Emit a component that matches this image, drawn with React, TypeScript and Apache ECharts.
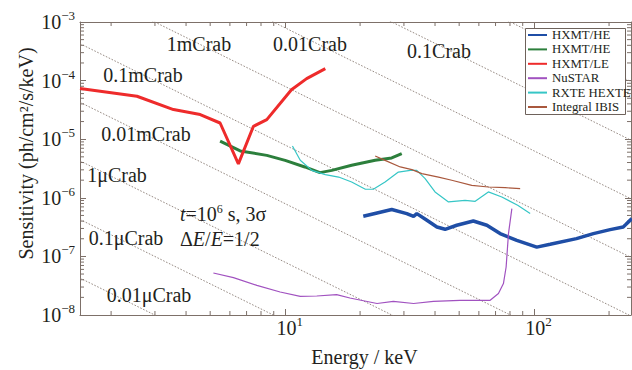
import React, { useEffect, useRef } from 'react';
import * as echarts from 'echarts';

const FONT = '"Liberation Serif", "Times New Roman", Times, serif';
const AXIS = '#7d7069';
const TEXT = '#231f20';

// axis ranges (keV, ph/cm^2/s/keV)
const xRange: [number, number] = [1.5, 245];
const yRange: [number, number] = [1e-8, 1e-3];

// minor tick values
const xMinorTicks = [2, 3, 4, 5, 6, 7, 8, 9, 20, 30, 40, 50, 60, 70, 80, 90, 200];
const yMinorTicks = [-8, -7, -6, -5, -4].flatMap((p) => [2, 3, 4, 5, 6, 7, 8, 9].map((k) => k * Math.pow(10, p)));

// Crab reference lines: F = fraction * crabNorm * E^-crabIndex
const crabNorm = 10;
const crabIndex = 2.1;
const crabFractions = [1, 0.1, 0.01, 1e-3, 1e-4, 1e-5, 1e-6, 1e-7, 1e-8];

const crabLabels = [
  { text: '1mCrab', x: 199, y: 44 },
  { text: '0.01Crab', x: 310, y: 44 },
  { text: '0.1Crab', x: 439, y: 51 },
  { text: '0.1mCrab', x: 143, y: 75 },
  { text: '0.01mCrab', x: 146, y: 134 },
  { text: '1μCrab', x: 117, y: 175 },
  { text: '0.1μCrab', x: 126, y: 238 },
  { text: '0.01μCrab', x: 149, y: 295 },
];

// series data [energy keV, sensitivity]
const hxmtHe: [number, number][] = [
  [20.6, 4.83e-7], [23.4, 5.51e-7], [26.8, 6.3e-7], [30.8, 5.37e-7], [32.8, 4.83e-7], [33.8, 5.37e-7],
  [37.1, 4.13e-7], [40.7, 3.18e-7], [43.9, 2.9e-7], [48.9, 3.4e-7], [57.0, 4.02e-7], [64.6, 3.4e-7],
  [73.0, 2.45e-7], [85.2, 1.88e-7], [102.5, 1.44e-7], [116, 1.61e-7], [148, 2.01e-7], [173, 2.45e-7],
  [202, 2.86e-7], [228, 3.18e-7], [234, 3.53e-7], [247, 4.42e-7],
];
const hxmtMe: [number, number][] = [
  [5.48, 9.3e-6], [6.6, 6.3e-6], [8.44, 5.3e-6], [10.0, 4.36e-6], [12.0, 3.36e-6], [13.8, 2.69e-6],
  [15.4, 2.94e-6], [18.5, 3.59e-6], [23.0, 4.36e-6], [26.8, 4.78e-6], [29.4, 5.68e-6],
];
const hxmtLe: [number, number][] = [
  [1.5, 7.3e-5], [2.54, 5.4e-5], [3.56, 3.2e-5], [4.56, 2.63e-5], [5.48, 1.89e-5], [6.49, 3.8e-6],
  [7.46, 1.66e-5], [8.44, 2.16e-5], [10.6, 7.0e-5], [12.2, 1.08e-4], [14.5, 1.6e-4],
];
const nustar: [number, number][] = [
  [5.15, 5.21e-8], [6.2, 4.35e-8], [7.7, 3.21e-8], [9.55, 2.47e-8], [11.5, 2.08e-8], [13.4, 2.11e-8],
  [16.1, 2.23e-8], [18.2, 1.95e-8], [23.4, 1.57e-8], [27.2, 1.71e-8], [32.8, 1.57e-8], [39.4, 1.71e-8],
  [50.4, 1.78e-8], [66.6, 1.78e-8], [71.9, 2.32e-8], [75.3, 3.44e-8], [77.2, 6.6e-8], [78.9, 2.45e-7],
  [81.4, 6.55e-7],
];
const rxteHexte: [number, number][] = [
  [10.7, 7.66e-6], [11.5, 4.36e-6], [12.8, 2.94e-6], [14.5, 2.49e-6], [16.4, 2.26e-6], [18.5, 1.86e-6],
  [21.0, 1.4e-6], [22.6, 1.4e-6], [25.2, 1.86e-6], [28.5, 2.75e-6], [31.8, 2.94e-6], [33.8, 2.94e-6],
  [36.5, 2.13e-6], [40.0, 1.26e-6], [45.3, 8.5e-7], [52.8, 9.05e-7], [58.0, 8.7e-7], [65.5, 1.26e-6],
  [74.2, 1.03e-6], [85.9, 7.45e-7], [96.4, 5.37e-7],
];
const integralIbis: [number, number][] = [
  [23.0, 5.16e-6], [25.2, 4.36e-6], [29.0, 3.36e-6], [32.3, 3.03e-6], [35.4, 2.59e-6], [41.3, 2.26e-6],
  [46.7, 1.99e-6], [56.2, 1.63e-6], [65.5, 1.53e-6], [76.5, 1.49e-6], [87.9, 1.43e-6],
];

const curves = [
  { id: 'he', label: 'HXMT/HE', data: hxmtHe, color: '#1f4ea6', width: 3.5 },
  { id: 'me', label: 'HXMT/HE', data: hxmtMe, color: '#2c7f3c', width: 3 },
  { id: 'le', label: 'HXMT/LE', data: hxmtLe, color: '#ee2b2b', width: 3 },
  { id: 'nustar', label: 'NuSTAR', data: nustar, color: '#a152c0', width: 1.2 },
  { id: 'hexte', label: 'RXTE HEXTE', data: rxteHexte, color: '#36c6c6', width: 1.2 },
  { id: 'ibis', label: 'Integral IBIS', data: integralIbis, color: '#a9583d', width: 1.2 },
];

const supRich = {
  b: { fontSize: 20, fontFamily: FONT, color: TEXT, lineHeight: 26 },
  s: { fontSize: 13, fontFamily: FONT, color: TEXT, lineHeight: 13, verticalAlign: 'top' },
};

function powLabel(v: number) {
  const l = Math.log10(v);
  const r = Math.round(l);
  if (Math.abs(l - r) > 1e-6) return '';
  return `{b|10}{s|${r < 0 ? '−' + -r : r}}`;
}

export default function App() {
  const ref = useRef<HTMLDivElement>(null);
  useEffect(() => {
    if (!ref.current) return;
    const chart = echarts.init(ref.current, null, { renderer: 'svg' });
    const tickStyle = { stroke: AXIS, lineWidth: 1 };
    const series: any[] = [];
    crabFractions.forEach((f, i) => {
      series.push({
        type: 'line',
        name: 'crab' + i,
        data: xRange.map((e) => [e, f * crabNorm * Math.pow(e, -crabIndex)]),
        symbol: 'none',
        showSymbol: false,
        silent: true,
        clip: true,
        z: 1,
        lineStyle: { color: '#8a7d75', width: 0.9, type: [1.6, 1.6] },
      });
    });
    curves.forEach((c) => {
      series.push({
        type: 'line',
        name: c.id,
        data: c.data,
        symbol: 'none',
        showSymbol: false,
        clip: true,
        z: 2,
        lineStyle: { color: c.color, width: c.width },
        itemStyle: { color: c.color },
      });
    });
    series.push({
      type: 'custom',
      name: 'xminor',
      silent: true,
      data: xMinorTicks.map((v) => [v, yRange[0]]),
      renderItem: (params: any, api: any) => {
        const cs = params.coordSys;
        const px = api.coord([api.value(0), api.value(1)])[0];
        const b = cs.y + cs.height;
        return {
          type: 'group',
          children: [
            { type: 'line', shape: { x1: px, y1: b, x2: px, y2: b - 4 }, style: tickStyle },
            { type: 'line', shape: { x1: px, y1: cs.y, x2: px, y2: cs.y + 4 }, style: tickStyle },
          ],
        };
      },
    });
    series.push({
      type: 'custom',
      name: 'yminor',
      silent: true,
      data: yMinorTicks.map((v) => [xRange[0], v]),
      renderItem: (params: any, api: any) => {
        const cs = params.coordSys;
        const py = api.coord([api.value(0), api.value(1)])[1];
        const r = cs.x + cs.width;
        return {
          type: 'group',
          children: [
            { type: 'line', shape: { x1: cs.x, y1: py, x2: cs.x + 4, y2: py }, style: tickStyle },
            { type: 'line', shape: { x1: r, y1: py, x2: r - 4, y2: py }, style: tickStyle },
          ],
        };
      },
    });

    const axisCommon = {
      type: 'log',
      logBase: 10,
      axisLine: { show: true, onZero: false, lineStyle: { color: AXIS, width: 1 } },
      axisTick: { show: true, inside: true, length: 6, lineStyle: { color: AXIS, width: 1 } },
      splitLine: { show: false },
      minorTick: { show: false },
    };

    const labelMap: Record<string, string> = {};
    curves.forEach((c) => (labelMap[c.id] = c.label));

    chart.setOption({
      animation: false,
      backgroundColor: '#ffffff',
      grid: { left: 80, right: 1, top: 22, bottom: 55 },
      xAxis: [
        {
          ...axisCommon,
          position: 'bottom',
          min: xRange[0],
          max: xRange[1],
          axisLabel: { formatter: powLabel, rich: supRich, margin: 0, padding: [0, 0, 0, 9], showMinLabel: false, showMaxLabel: false },
        },
        { ...axisCommon, position: 'top', min: xRange[0], max: xRange[1], axisLabel: { show: false } },
      ],
      yAxis: [
        {
          ...axisCommon,
          position: 'left',
          min: yRange[0],
          max: yRange[1],
          axisLabel: { formatter: powLabel, rich: supRich, margin: 5 },
        },
        { ...axisCommon, position: 'right', min: yRange[0], max: yRange[1], axisLabel: { show: false } },
      ],
      legend: {
        data: curves.map((c) => c.id),
        formatter: (n: string) => labelMap[n] || n,
        orient: 'vertical',
        left: 524,
        top: 28,
        padding: [0, 0, 0, 3],
        itemWidth: 19,
        itemHeight: 10,
        itemGap: 0.4,
        selectedMode: false,
        itemStyle: { opacity: 0 },
        textStyle: { fontFamily: FONT, fontSize: 12.8, color: TEXT, lineHeight: 14 },
      },
      graphic: [
        {
          type: 'rect',
          z: 3,
          shape: { x: 525.5, y: 28.5, width: 100, height: 86 },
          style: { fill: '#ffffff', stroke: '#6e625b', lineWidth: 1 },
        },
        ...crabLabels.map((l) => ({
          type: 'text',
          x: l.x,
          y: l.y,
          z: 5,
          style: { text: l.text, font: `20px ${FONT}`, fill: TEXT, align: 'center', verticalAlign: 'middle' },
        })),
        {
          type: 'text',
          x: 180,
          y: 214,
          z: 5,
          style: {
            text: '{i|t}{n|=10}{s|6}{n| s, 3σ}',
            verticalAlign: 'middle',
            rich: {
              i: { fontSize: 20, fontFamily: FONT, fontStyle: 'italic', fill: TEXT, lineHeight: 22 },
              n: { fontSize: 20, fontFamily: FONT, fill: TEXT, lineHeight: 22 },
              s: { fontSize: 12, fontFamily: FONT, fill: TEXT, lineHeight: 14, verticalAlign: 'top' },
            },
          },
        },
        {
          type: 'text',
          x: 180,
          y: 238.5,
          z: 5,
          style: {
            text: '{n|Δ}{i|E}{n|/}{i|E}{n|=1/2}',
            verticalAlign: 'middle',
            rich: {
              i: { fontSize: 20, fontFamily: FONT, fontStyle: 'italic', fill: TEXT },
              n: { fontSize: 20, fontFamily: FONT, fill: TEXT },
            },
          },
        },
        {
          type: 'text',
          x: 364.5,
          y: 357,
          z: 5,
          style: { text: 'Energy / keV', font: `20px ${FONT}`, fill: TEXT, align: 'center', verticalAlign: 'middle' },
        },
        {
          type: 'text',
          x: 26,
          y: 153.5,
          rotation: Math.PI / 2,
          z: 5,
          style: { text: 'Sensitivity (ph/cm²/s/keV)', font: `20px ${FONT}`, fill: TEXT, align: 'center', verticalAlign: 'middle' },
        },
      ],
      series,
    });
    return () => chart.dispose();
  }, []);
  return <div ref={ref} style={{ position: 'fixed', left: 0, top: 0, width: 632, height: 370, background: '#fff' }} />;
}
